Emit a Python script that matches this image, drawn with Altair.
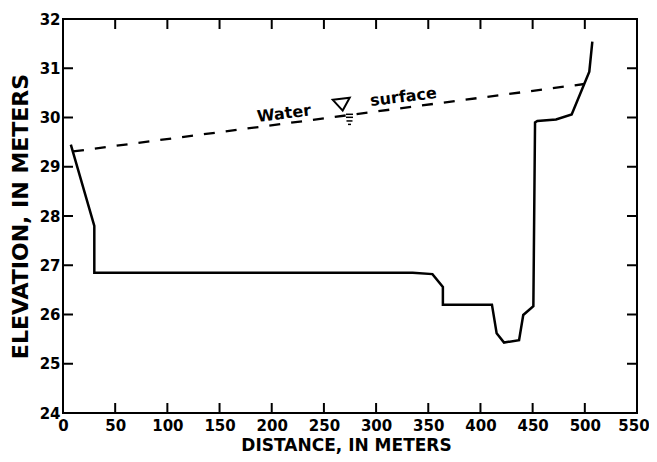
import altair as alt
import pandas as pd

# Channel cross-section profile (distance in m, elevation in m)
distance = [7.5, 30, 30, 335, 354, 364, 364, 411, 415.5, 422.6, 437, 441, 450.7,
            452.3, 454.5, 472.4, 487.4, 504.3, 507.2]
elevation = [29.45, 27.8, 26.85, 26.85, 26.82, 26.56, 26.2, 26.2, 25.62, 25.43, 25.48,
             25.99, 26.17, 29.9, 29.93, 29.96, 30.06, 30.93, 31.54]

# Water surface
water_distance = [9.6, 499.6]
water_elevation = [29.31, 30.68]

# Annotation labels
label_text = ["Water", "surface"]
label_distance = [212.3, 326.8]
label_elevation = [29.976, 30.315]

# Water-level symbol (triangle + hatch lines)
symbol_distance = [267.3]
symbol_elevation = [30.26]
hatch_distance = [274.5, 274.5, 274.5, 274.5]
hatch_elevation = [30.065, 30.004, 29.93, 29.86]
hatch_width = [7, 7, 6, 3]

x_ticks = list(range(0, 551, 50))
y_ticks = list(range(24, 33))
x_inner_ticks = list(range(50, 501, 50))
y_inner_ticks = list(range(25, 32))

W, H = 574, 394
FONT = "DejaVu Sans"

xs = alt.Scale(domain=[0, 550], nice=False, zero=False)
ys = alt.Scale(domain=[24, 32], nice=False, zero=False)

xaxis = alt.Axis(values=x_ticks, title="DISTANCE, IN METERS", grid=False, domain=False,
                 ticks=False, tickSize=0, labelFlush=False, labelOverlap=False,
                 labelOffset={"condition": {"test": "datum.value == 550", "value": -3.5}, "value": 0},
                 labelFont=FONT, labelFontWeight="bold", labelFontSize=15, labelColor="black",
                 labelPadding=5, titleFont=FONT, titleFontWeight="bold", titleFontSize=17,
                 titleColor="black", titleBaseline="alphabetic", titleY=37, titleX=283)
yaxis = alt.Axis(values=y_ticks, title="ELEVATION, IN METERS", grid=False, domain=False,
                 ticks=False, tickSize=0, labelFlush=False, labelOverlap=False,
                 labelFont=FONT, labelFontWeight="bold", labelFontSize=15, labelColor="black",
                 labelPadding=3, titleFont=FONT, titleFontWeight="bold", titleFontSize=22,
                 titleColor="black", titleBaseline="alphabetic", titleX=-36, titleY=H / 2)


def X(f):
    return alt.X(f, type="quantitative", scale=xs, axis=xaxis)


def Y(f):
    return alt.Y(f, type="quantitative", scale=ys, axis=yaxis)


profile_df = pd.DataFrame({"d": distance, "e": elevation, "o": range(len(distance))})
water_df = pd.DataFrame({"d": water_distance, "e": water_elevation})
label_df = pd.DataFrame({"d": label_distance, "e": label_elevation, "t": label_text})
symbol_df = pd.DataFrame({"d": symbol_distance, "e": symbol_elevation})
hatch_df = pd.DataFrame({"d": hatch_distance, "e": hatch_elevation, "w": hatch_width})
xt_df = pd.DataFrame({"d": x_inner_ticks})
yt_df = pd.DataFrame({"e": y_inner_ticks})

profile = alt.Chart(profile_df).mark_line(color="black", strokeWidth=2.5).encode(
    x=X("d"), y=Y("e"), order="o:Q")

water = alt.Chart(water_df).mark_line(color="black", strokeWidth=2.3, strokeDash=[11, 11]).encode(
    x=X("d"), y=Y("e"))

labels = alt.Chart(label_df).mark_text(font=FONT, fontWeight="bold", fontSize=16, angle=353,
                                       baseline="alphabetic", align="center", color="black").encode(
    x=X("d"), y=Y("e"), text="t:N")

symbol = alt.Chart(symbol_df).mark_point(shape="M-1,-0.7L0,0.7L1,-0.7Z", size=289, angle=353,
                                         filled=False, color="black", strokeWidth=2, opacity=1).encode(
    x=X("d"), y=Y("e"))

hatch = alt.Chart(hatch_df).mark_tick(orient="horizontal", thickness=1.5, color="black", opacity=1).encode(
    x=X("d"), y=Y("e"), size=alt.Size("w:Q", scale=None, legend=None))

bottom_ticks = alt.Chart(xt_df).mark_rule(color="black", strokeWidth=2).encode(
    x=X("d"), y=alt.value(H), y2=alt.value(H - 10))
top_ticks = alt.Chart(xt_df).mark_rule(color="black", strokeWidth=2).encode(
    x=X("d"), y=alt.value(0), y2=alt.value(10))
left_ticks = alt.Chart(yt_df).mark_rule(color="black", strokeWidth=2).encode(
    y=Y("e"), x=alt.value(0), x2=alt.value(10))
right_ticks = alt.Chart(yt_df).mark_rule(color="black", strokeWidth=2).encode(
    y=Y("e"), x=alt.value(W), x2=alt.value(W - 10))

chart = alt.layer(
    bottom_ticks, top_ticks, left_ticks, right_ticks, water, profile, symbol, hatch, labels
).properties(
    width=W, height=H,
    padding={"left": 55, "top": 11, "right": 12, "bottom": 41},
    autosize=alt.AutoSizeParams(type="none"),
    background="white",
).configure_view(stroke="black", strokeWidth=2)

chart.save("out.html", embed_options={"renderer": "svg", "actions": False})
